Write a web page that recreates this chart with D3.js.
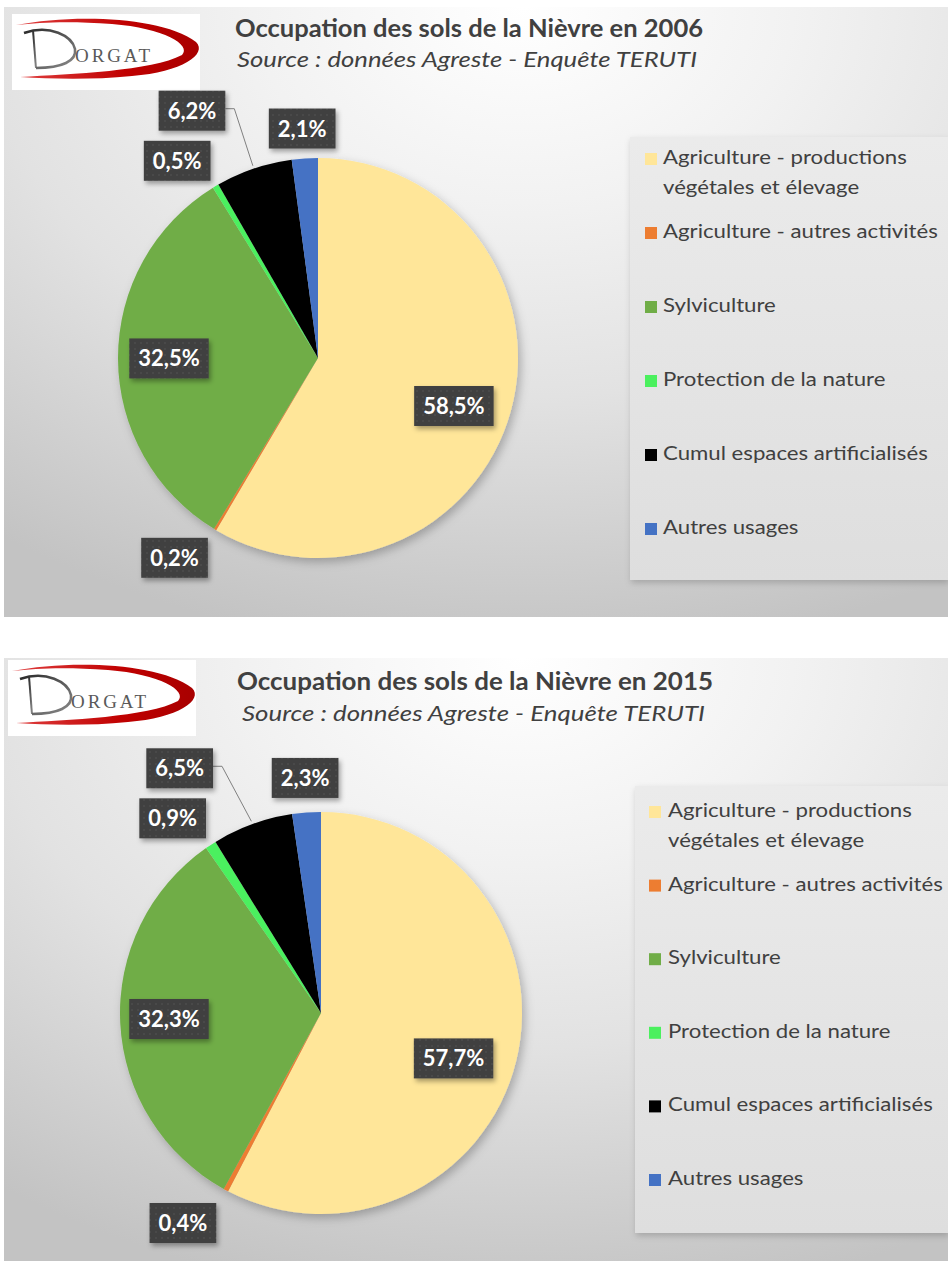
<!DOCTYPE html>
<html>
<head>
<meta charset="utf-8">
<script src="https://cdn.jsdelivr.net/npm/d3@7"></script>
<style>
  body { margin: 0; background: #ffffff; }
  svg { display: block; }
</style>
</head>
<body>
<svg id="chart" width="948" height="1261"></svg>
<script>
// ---- Data -------------------------------------------------------------
const categories = [
  "Agriculture - productions végétales et élevage",
  "Agriculture - autres activités",
  "Sylviculture",
  "Protection de la nature",
  "Cumul espaces artificialisés",
  "Autres usages"
];
const years = ["2006", "2015"];
const values2006 = [58.5, 0.2, 32.5, 0.5, 6.2, 2.1];
const values2015 = [57.7, 0.4, 32.3, 0.9, 6.5, 2.3];
const sliceColors = ["#FFE699", "#ED7D31", "#70AD47", "#4BF05E", "#000000", "#4472C4"];
const titlePrefix = "Occupation des sols de la Nièvre en ";
const sourceText = "Source : données Agreste - Enquête TERUTI";

// ---- Layout of the two panels -----------------------------------------
const panels = [
  {
    year: years[0], values: values2006,
    box: { x: 4, y: 7, w: 944, h: 610 },
    logo: { x: 12, y: 14 },
    title: { x: 235, y: 37, w: 468 },
    source: { x: 237, y: 67, w: 460 },
    pie: { cx: 318, cy: 358, r: 200 },
    legend: { x: 630, y: 137, w: 318, h: 443, sqX: 645, textX: 663, firstY: 157, step: 74 },
    nudges: [[-3, 10], [-20, -6], [-5, 0], [-18, 9], [-49, -20], [0, 10]],
    leaders: [false, false, false, false, true, false]
  },
  {
    year: years[1], values: values2015,
    box: { x: 4, y: 658, w: 944, h: 603 },
    logo: { x: 8, y: 660 },
    title: { x: 237, y: 690, w: 476 },
    source: { x: 242, y: 721, w: 463 },
    pie: { cx: 321, cy: 1013, r: 201 },
    legend: { x: 635, y: 786, w: 313, h: 447, sqX: 649, textX: 668, firstY: 810, step: 73.6 },
    nudges: [[-8, 11], [-24, -2.5], [-7.5, -1.5], [-16, 7], [-59, -18], [1.5, 5.5]],
    leaders: [false, false, false, false, true, false]
  }
];

const FONT = "Lato, 'Open Sans', 'Liberation Sans', sans-serif";
const svg = d3.select("#chart");
const defs = svg.append("defs");

// Shadows
const shPie = defs.append("filter").attr("id", "pieShadow")
  .attr("x", "-20%").attr("y", "-20%").attr("width", "140%").attr("height", "140%");
shPie.append("feDropShadow").attr("dx", 3).attr("dy", 4).attr("stdDeviation", 5)
  .attr("flood-color", "#000").attr("flood-opacity", 0.25);

const shBox = defs.append("filter").attr("id", "boxShadow")
  .attr("x", "-30%").attr("y", "-30%").attr("width", "160%").attr("height", "160%");
shBox.append("feDropShadow").attr("dx", 2).attr("dy", 3).attr("stdDeviation", 2.5)
  .attr("flood-color", "#000").attr("flood-opacity", 0.35);

const shLeg = defs.append("filter").attr("id", "legShadow")
  .attr("x", "-10%").attr("y", "-10%").attr("width", "120%").attr("height", "120%");
shLeg.append("feDropShadow").attr("dx", 1).attr("dy", 3).attr("stdDeviation", 3)
  .attr("flood-color", "#000").attr("flood-opacity", 0.18);

// Dotted texture for the data label boxes
const dots = defs.append("pattern").attr("id", "labelDots")
  .attr("width", 6).attr("height", 6).attr("patternUnits", "userSpaceOnUse");
dots.append("rect").attr("width", 6).attr("height", 6).attr("fill", "#404040");
dots.append("circle").attr("cx", 3).attr("cy", 3).attr("r", 0.8).attr("fill", "#555555");

// Legend fill
const legGrad = defs.append("linearGradient").attr("id", "legGrad")
  .attr("x1", 0).attr("y1", 0).attr("x2", 0).attr("y2", 1);
legGrad.append("stop").attr("offset", 0).attr("stop-color", "#ebebeb");
legGrad.append("stop").attr("offset", 1).attr("stop-color", "#dedede");

// Logo gradients
const redGrad = defs.append("linearGradient").attr("id", "redGrad")
  .attr("x1", 0).attr("y1", 0).attr("x2", 1).attr("y2", 0);
redGrad.append("stop").attr("offset", 0).attr("stop-color", "#e04040");
redGrad.append("stop").attr("offset", 0.6).attr("stop-color", "#c00000");
redGrad.append("stop").attr("offset", 1).attr("stop-color", "#a80000");
const greyGrad = defs.append("linearGradient").attr("id", "greyGrad")
  .attr("x1", 0).attr("y1", 0).attr("x2", 1).attr("y2", 1);
greyGrad.append("stop").attr("offset", 0).attr("stop-color", "#2a2a2a");
greyGrad.append("stop").attr("offset", 1).attr("stop-color", "#8a8a8a");

const frFmt = v => d3.format(".1f")(v).replace(".", ",") + "%";

function drawLogo(g) {
  g.append("rect").attr("width", 188).attr("height", 76).attr("fill", "#ffffff");
  // red swoosh
  g.append("path")
    .attr("d", "M4,11 C60,0 150,2 184,28 C196,40 170,58 120,62 C80,66 40,65 8,63 " +
               "C60,60 140,57 170,41 C180,31 152,14 100,10 C60,7 30,8 4,11 Z")
    .attr("fill", "url(#redGrad)");
  // stylised D
  g.append("path")
    .attr("d", "M21,16 L24,54")
    .attr("stroke", "url(#greyGrad)").attr("stroke-width", 2).attr("fill", "none");
  g.append("path")
    .attr("d", "M12,19 C38,10 60,22 63,35 C65,47 50,54 24,54")
    .attr("stroke", "url(#greyGrad)").attr("stroke-width", 2.6).attr("fill", "none");
  g.append("text")
    .attr("x", 63).attr("y", 48)
    .attr("font-family", "'Liberation Serif', 'DejaVu Serif', serif")
    .attr("font-size", 19)
    .attr("textLength", 75).attr("lengthAdjust", "spacing")
    .attr("fill", "#5a5a5a")
    .text("ORGAT");
}

panels.forEach((p, pi) => {
  const b = p.box;
  // Panel background: soft radial gradient, light at top centre
  const gid = "bg" + pi;
  const rg = defs.append("radialGradient").attr("id", gid)
    .attr("gradientUnits", "userSpaceOnUse")
    .attr("cx", 0).attr("cy", 0).attr("r", 1)
    .attr("gradientTransform", `translate(${b.x + b.w * 0.55},${b.y}) scale(900,650)`);
  rg.append("stop").attr("offset", 0).attr("stop-color", "#ffffff");
  rg.append("stop").attr("offset", 0.3).attr("stop-color", "#f2f2f2");
  rg.append("stop").attr("offset", 0.6).attr("stop-color", "#e2e2e2");
  rg.append("stop").attr("offset", 1).attr("stop-color", "#c3c3c3");

  const panel = svg.append("g").attr("class", "panel");
  panel.append("rect")
    .attr("x", b.x).attr("y", b.y).attr("width", b.w).attr("height", b.h)
    .attr("fill", `url(#${gid})`);

  drawLogo(panel.append("g").attr("transform", `translate(${p.logo.x},${p.logo.y})`));

  // Titles
  panel.append("text")
    .attr("x", p.title.x).attr("y", p.title.y)
    .attr("font-family", FONT).attr("font-weight", 700).attr("font-size", 25)
    .attr("fill", "#404040")
    .attr("textLength", p.title.w).attr("lengthAdjust", "spacingAndGlyphs")
    .text(titlePrefix + p.year);
  panel.append("text")
    .attr("x", p.source.x).attr("y", p.source.y)
    .attr("font-family", FONT).attr("font-style", "italic").attr("font-size", 21)
    .attr("fill", "#404040")
    .attr("textLength", p.source.w).attr("lengthAdjust", "spacingAndGlyphs")
    .text(sourceText);

  // Legend
  const L = p.legend;
  panel.append("rect")
    .attr("x", L.x).attr("y", L.y).attr("width", L.w).attr("height", L.h)
    .attr("fill", "url(#legGrad)").attr("filter", "url(#legShadow)");

  const legG = panel.append("g");
  const legendFontSize = 20;
  // measure to fit the legend text width
  const probe = legG.append("text").attr("font-family", FONT).attr("font-size", legendFontSize)
    .text(categories[1]);
  const sx = 275 / probe.node().getComputedTextLength();
  probe.remove();

  const measure = legG.append("text").attr("font-family", FONT).attr("font-size", legendFontSize);
  function wrap(str, maxW) {
    const words = str.split(" ");
    const lines = [];
    let cur = "";
    words.forEach(w => {
      const test = cur ? cur + " " + w : w;
      measure.text(test);
      if (measure.node().getComputedTextLength() * sx > maxW && cur) {
        lines.push(cur);
        cur = w;
      } else cur = test;
    });
    if (cur) lines.push(cur);
    return lines;
  }

  categories.forEach((c, i) => {
    const y0 = L.firstY + i * L.step;
    legG.append("rect")
      .attr("x", L.sqX).attr("y", y0 - 4).attr("width", 12).attr("height", 12)
      .attr("fill", sliceColors[i]);
    const lines = wrap(c, 285);
    lines.forEach((ln, k) => {
      legG.append("text")
        .attr("transform", `translate(${L.textX},${y0 + 7 + k * 30}) scale(${sx},1)`)
        .attr("font-family", FONT).attr("font-size", legendFontSize)
        .attr("fill", "#404040")
        .text(ln);
    });
  });
  measure.remove();

  // Pie
  const P = p.pie;
  const arcs = d3.pie().sort(null).value(d => d)(p.values);
  const arc = d3.arc().innerRadius(0).outerRadius(P.r);
  const pieG = panel.append("g").attr("transform", `translate(${P.cx},${P.cy})`);
  pieG.append("g").attr("filter", "url(#pieShadow)")
    .selectAll("path").data(arcs).join("path")
    .attr("d", arc)
    .attr("fill", (d, i) => sliceColors[i]);

  // Data labels
  const labG = pieG.append("g");
  arcs.forEach((d, i) => {
    const mid = (d.startAngle + d.endAngle) / 2;
    const f = d.data > 10 ? 0.72 : 1.2;
    const cx = Math.sin(mid) * P.r * f + p.nudges[i][0];
    const cy = -Math.cos(mid) * P.r * f + p.nudges[i][1];

    const t = labG.append("text")
      .attr("font-family", FONT).attr("font-weight", 700).attr("font-size", 22)
      .attr("fill", "#ffffff").attr("text-anchor", "middle")
      .attr("x", cx).attr("y", cy + 8)
      .text(frFmt(d.data));
    const tw = t.node().getComputedTextLength();
    const bw = tw + 18, bh = 40;

    if (p.leaders[i]) {
      const ex = Math.sin(mid) * (P.r + 3), ey = -Math.cos(mid) * (P.r + 3);
      labG.insert("path", "text")
        .attr("d", `M${cx + bw / 2},${cy - 2} L${cx + bw / 2 + 9},${cy - 2} L${ex},${ey}`)
        .attr("fill", "none").attr("stroke", "#808080").attr("stroke-width", 1);
    }
    labG.insert("rect", "text")
      .attr("x", cx - bw / 2).attr("y", cy - bh / 2)
      .attr("width", bw).attr("height", bh)
      .attr("fill", "url(#labelDots)")
      .attr("filter", "url(#boxShadow)");
  });
});
</script>
</body>
</html>
